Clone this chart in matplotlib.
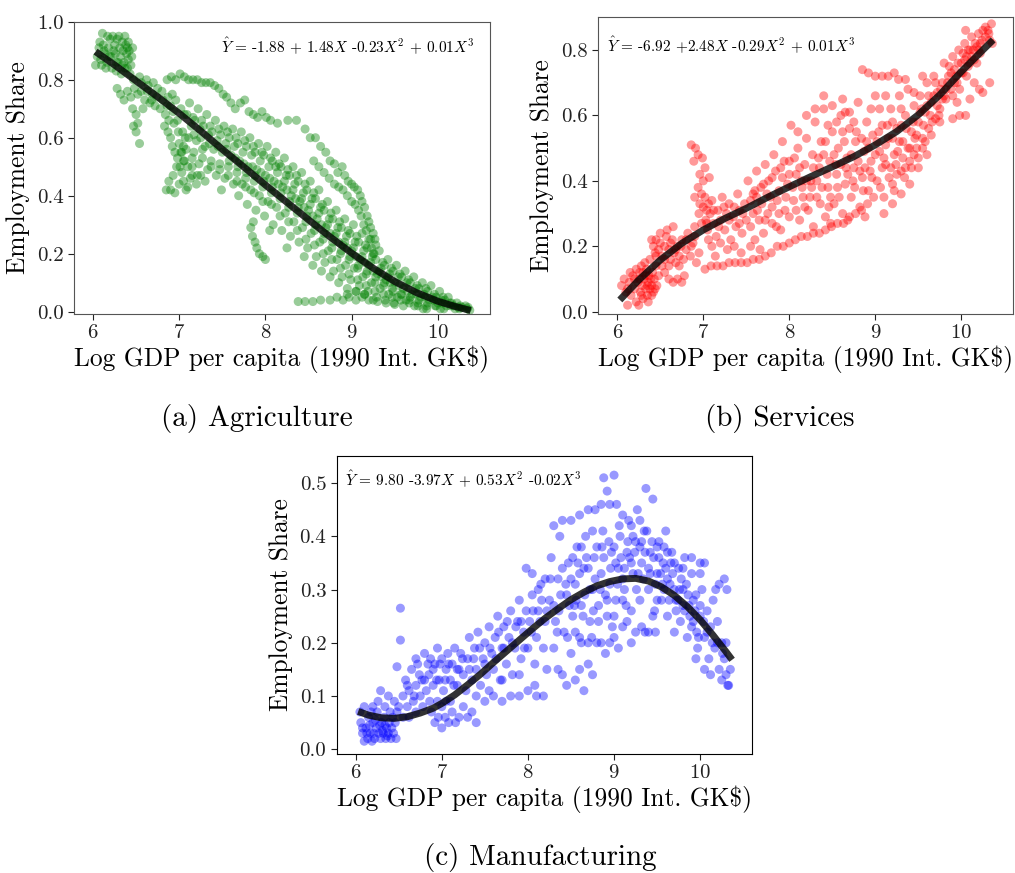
import matplotlib
matplotlib.use("Agg")
import matplotlib.pyplot as plt
import numpy as np

plt.rcParams['font.family'] = 'cmr10'
plt.rcParams['mathtext.fontset'] = 'cm'
plt.rcParams['axes.formatter.use_mathtext'] = True
plt.rcParams['axes.unicode_minus'] = False

# ---- data (log GDP per capita, employment share) ----
agri_pts = [
    # top-left cluster
    (6.03,0.85),(6.05,0.88),(6.07,0.91),(6.09,0.87),(6.11,0.96),(6.12,0.92),(6.14,0.89),(6.16,0.86),
    (6.18,0.91),(6.20,0.94),(6.21,0.88),(6.23,0.95),(6.25,0.92),(6.26,0.89),(6.28,0.94),(6.29,0.86),
    (6.31,0.91),(6.32,0.88),(6.34,0.93),(6.35,0.90),(6.36,0.86),(6.38,0.92),(6.39,0.89),(6.40,0.91),
    (6.41,0.87),(6.42,0.90),(6.44,0.85),(6.45,0.88),(6.22,0.84),(6.27,0.83),(6.33,0.82),(6.37,0.84),
    (6.43,0.82),(6.47,0.80),(6.10,0.85),(6.15,0.84),
    (6.08,0.93),(6.17,0.95),(6.24,0.90),(6.30,0.95),(6.37,0.95),(6.41,0.93),(6.46,0.91),(6.13,0.90),
    (6.19,0.88),(6.27,0.86),(6.34,0.85),(6.40,0.84),
    # left spread
    (6.28,0.77),(6.32,0.75),(6.36,0.73),(6.40,0.76),(6.44,0.74),(6.48,0.77),(6.52,0.75),(6.56,0.79),
    (6.60,0.73),(6.63,0.76),(6.66,0.72),(6.69,0.75),(6.72,0.71),(6.75,0.77),(6.78,0.70),(6.81,0.73),
    (6.84,0.68),(6.87,0.74),(6.90,0.71),(6.58,0.70),(6.54,0.81),(6.62,0.80),(6.70,0.79),(6.46,0.70),
    (6.50,0.68),(6.52,0.65),(6.50,0.62),(6.54,0.58),(6.47,0.64),
    (6.56,0.76),(6.64,0.78),(6.68,0.73),(6.74,0.74),(6.80,0.76),(6.86,0.71),(6.92,0.75),(6.96,0.73),
    (6.93,0.69),(6.88,0.66),
    # upper path
    (6.86,0.80),(6.91,0.81),(6.96,0.80),(7.01,0.82),(7.06,0.81),(7.11,0.80),(7.16,0.80),(7.21,0.80),
    (7.26,0.79),(7.31,0.79),(7.36,0.79),(7.41,0.78),(7.46,0.77),(7.51,0.75),(7.55,0.74),(7.60,0.72),
    (7.65,0.70),(7.71,0.72),(7.76,0.73),(7.81,0.69),(7.86,0.68),(7.91,0.67),(7.96,0.69),(8.01,0.67),
    (8.06,0.66),(8.14,0.65),(8.26,0.66),(8.36,0.66),(8.46,0.63),(8.52,0.60),(8.58,0.60),(8.64,0.57),
    (8.70,0.55),(8.75,0.52),(8.80,0.51),(8.84,0.48),(8.89,0.50),(8.92,0.47),(8.96,0.45),(9.00,0.44),
    (9.03,0.43),(9.07,0.42),(9.10,0.40),(9.12,0.38),(9.15,0.36),(9.18,0.33),(9.20,0.31),(9.22,0.29),
    (9.25,0.27),(9.27,0.25),(9.28,0.23),
    # second right path
    (8.56,0.52),(8.62,0.50),(8.68,0.48),(8.74,0.46),(8.80,0.44),(8.85,0.43),(8.90,0.42),(8.95,0.40),
    (9.00,0.38),(9.04,0.37),(9.08,0.35),(9.11,0.33),(9.14,0.30),(9.17,0.28),(9.20,0.25),(9.23,0.22),
    (9.25,0.20),
    # loop near x=7
    (6.83,0.64),(6.87,0.62),(6.90,0.60),(6.92,0.57),(6.95,0.55),(6.98,0.53),(7.01,0.50),(7.03,0.48),
    (6.97,0.50),(6.93,0.47),(6.88,0.45),(6.85,0.42),(6.90,0.42),(6.95,0.41),(7.00,0.44),(7.05,0.45),
    (7.08,0.42),(7.02,0.55),(7.06,0.52),(7.10,0.50),(7.13,0.46),(6.94,0.65),(6.99,0.62),
    (7.15,0.47),(7.20,0.44),(7.25,0.47),(7.30,0.45),(7.10,0.43),
    # main band
    (7.02,0.70),(6.98,0.66),(7.04,0.62),(7.00,0.58),(7.03,0.55),(7.05,0.52),
    (7.12,0.72),(7.09,0.68),(7.14,0.64),(7.11,0.60),(7.08,0.56),(7.15,0.50),
    (7.22,0.70),(7.18,0.66),(7.24,0.63),(7.20,0.59),(7.17,0.55),(7.23,0.51),(7.21,0.47),
    (7.32,0.68),(7.28,0.64),(7.34,0.61),(7.30,0.57),(7.27,0.53),(7.33,0.49),
    (7.42,0.66),(7.38,0.62),(7.44,0.59),(7.40,0.56),(7.37,0.52),(7.43,0.47),
    (7.52,0.64),(7.48,0.61),(7.54,0.58),(7.50,0.55),(7.47,0.51),(7.53,0.46),(7.49,0.42),
    (7.62,0.63),(7.58,0.60),(7.64,0.57),(7.60,0.54),(7.57,0.50),(7.63,0.44),
    (7.72,0.62),(7.68,0.58),(7.74,0.55),(7.70,0.52),(7.67,0.48),(7.73,0.44),(7.69,0.40),
    (7.82,0.60),(7.78,0.57),(7.84,0.54),(7.80,0.50),(7.77,0.46),(7.83,0.42),(7.79,0.37),
    (7.92,0.58),(7.88,0.55),(7.94,0.52),(7.90,0.49),(7.87,0.45),(7.93,0.40),(7.89,0.35),
    (8.02,0.57),(7.98,0.54),(8.04,0.50),(8.00,0.47),(7.97,0.43),(8.03,0.38),(7.99,0.33),(8.05,0.28),
    (8.12,0.55),(8.08,0.52),(8.14,0.48),(8.10,0.45),(8.07,0.41),(8.13,0.36),(8.09,0.30),
    (8.22,0.53),(8.18,0.50),(8.24,0.47),(8.20,0.43),(8.17,0.39),(8.23,0.34),(8.19,0.28),(8.25,0.22),
    (8.32,0.50),(8.28,0.47),(8.34,0.44),(8.30,0.40),(8.27,0.36),(8.33,0.31),(8.29,0.26),
    (8.42,0.48),(8.38,0.45),(8.44,0.41),(8.40,0.38),(8.37,0.34),(8.43,0.29),(8.39,0.24),(8.45,0.19),
    (8.52,0.45),(8.48,0.42),(8.54,0.39),(8.50,0.35),(8.47,0.31),(8.53,0.27),(8.49,0.22),(8.55,0.16),
    (8.62,0.42),(8.58,0.39),(8.64,0.36),(8.60,0.32),(8.57,0.28),(8.63,0.24),(8.59,0.19),(8.65,0.14),
    (8.72,0.38),(8.68,0.35),(8.74,0.32),(8.70,0.29),(8.67,0.25),(8.73,0.21),(8.69,0.17),(8.75,0.12),
    (8.82,0.35),(8.78,0.32),(8.84,0.29),(8.80,0.26),(8.77,0.22),(8.83,0.18),(8.79,0.14),(8.85,0.10),
    (8.92,0.32),(8.88,0.29),(8.94,0.26),(8.90,0.23),(8.87,0.20),(8.93,0.16),(8.89,0.12),(8.95,0.08),
    (9.02,0.30),(8.98,0.27),(9.04,0.24),(9.00,0.21),(8.97,0.18),(9.03,0.15),(8.99,0.11),(9.05,0.07),
    (9.12,0.27),(9.08,0.24),(9.14,0.21),(9.10,0.18),(9.07,0.15),(9.13,0.12),(9.09,0.09),(9.15,0.06),
    (9.22,0.25),(9.18,0.22),(9.24,0.19),(9.20,0.16),(9.17,0.13),(9.23,0.10),(9.19,0.07),(9.25,0.04),
    (9.32,0.21),(9.28,0.18),(9.34,0.15),(9.30,0.13),(9.27,0.10),(9.33,0.08),(9.29,0.05),
    (9.42,0.18),(9.38,0.16),(9.44,0.13),(9.40,0.11),(9.37,0.09),(9.43,0.06),(9.39,0.04),
    (9.52,0.16),(9.48,0.14),(9.54,0.12),(9.50,0.10),(9.47,0.08),(9.53,0.05),(9.49,0.03),
    (9.62,0.14),(9.58,0.12),(9.64,0.10),(9.60,0.08),(9.57,0.06),(9.63,0.04),
    (9.72,0.12),(9.68,0.10),(9.74,0.08),(9.70,0.06),(9.67,0.04),(9.73,0.02),
    (9.82,0.10),(9.78,0.08),(9.84,0.06),(9.80,0.05),(9.77,0.03),(9.83,0.01),
    (9.92,0.09),(9.88,0.07),(9.94,0.05),(9.90,0.04),(9.87,0.02),
    (10.02,0.07),(9.98,0.05),(10.04,0.04),(10.00,0.03),(9.97,0.02),(10.03,0.01),
    (10.12,0.05),(10.08,0.04),(10.14,0.03),(10.10,0.02),(10.07,0.01),
    (10.22,0.03),(10.18,0.02),(10.24,0.015),(10.20,0.01),
    (10.32,0.02),(10.28,0.015),(10.34,0.01),(10.37,0.005),
    # band infill
    (7.06,0.68),(7.07,0.60),(7.05,0.57),(7.16,0.67),(7.17,0.61),(7.15,0.53),(7.26,0.66),(7.25,0.60),
    (7.27,0.56),(7.36,0.64),(7.35,0.58),(7.37,0.50),(7.46,0.63),(7.45,0.57),(7.47,0.49),(7.56,0.62),
    (7.55,0.56),(7.57,0.47),(7.66,0.60),(7.65,0.53),(7.67,0.45),(7.76,0.59),(7.75,0.51),(7.77,0.43),
    (7.86,0.57),(7.85,0.50),(7.87,0.41),(7.96,0.55),(7.95,0.48),(7.97,0.38),(8.06,0.53),(8.05,0.46),
    (8.07,0.37),(8.16,0.51),(8.15,0.44),(8.17,0.33),(8.26,0.49),(8.25,0.42),(8.27,0.31),(8.36,0.47),
    (8.35,0.39),(8.37,0.28),(8.46,0.44),(8.45,0.36),(8.47,0.25),(8.56,0.41),(8.55,0.33),(8.57,0.23),
    (8.66,0.37),(8.65,0.30),(8.67,0.20),(8.76,0.34),(8.75,0.27),(8.77,0.18),(8.86,0.31),(8.85,0.24),
    (8.87,0.15),(8.96,0.28),(8.95,0.22),(8.97,0.13),(9.06,0.26),(9.05,0.19),(9.07,0.11),(9.16,0.23),
    (9.15,0.17),(9.17,0.09),(9.26,0.20),(9.25,0.14),(9.27,0.07),(9.36,0.17),(9.35,0.12),(9.37,0.06),
    (9.46,0.15),(9.45,0.10),(9.47,0.05),(9.56,0.13),(9.55,0.09),(9.57,0.04),(9.66,0.11),(9.65,0.07),
    (9.67,0.03),(9.76,0.09),(9.75,0.06),(9.77,0.02),(9.86,0.08),(9.85,0.05),(9.87,0.01),(9.96,0.06),
    (9.95,0.04),(10.06,0.05),(10.05,0.03),(10.16,0.03),(10.15,0.02),(10.26,0.02),(10.25,0.01),(10.35,0.015),
    (7.58,0.52),(7.68,0.50),(7.78,0.48),(7.88,0.47),(7.98,0.45),(8.08,0.43),(8.18,0.41),(8.28,0.38),
    (8.38,0.36),(8.48,0.33),(8.58,0.30),(8.68,0.27),(8.78,0.24),(8.88,0.21),(8.98,0.19),(9.08,0.16),
    (9.18,0.14),(9.28,0.12),(9.38,0.10),(9.48,0.07),(9.58,0.06),(9.68,0.05),(9.78,0.04),(9.88,0.03),
    (9.98,0.02),(8.12,0.50),(8.22,0.45),(8.32,0.42),(8.42,0.39),(8.52,0.37),(8.62,0.34),(8.72,0.30),
    (8.82,0.27),(8.92,0.24),(9.02,0.22),(9.12,0.19),(9.22,0.17),(9.32,0.14),(9.42,0.12),
    # lower tail and bottom line
    (7.83,0.29),(7.85,0.26),(7.88,0.24),(7.90,0.22),(7.93,0.20),(7.97,0.19),(8.00,0.18),(7.86,0.31),
    (8.38,0.035),(8.46,0.035),(8.55,0.035),(8.64,0.04),(8.75,0.04),(8.83,0.05),(8.90,0.04),(8.97,0.05),
    (9.05,0.04),(9.12,0.05),(9.20,0.04),(9.30,0.035),(9.40,0.03),(9.50,0.025),(9.60,0.02),(8.95,0.06),
    (9.05,0.07),(9.15,0.06),
]

serv_pts = [
    # bottom-left cluster
    (6.05,0.08),(6.08,0.10),(6.10,0.06),(6.12,0.02),(6.14,0.09),(6.16,0.05),(6.18,0.11),(6.20,0.07),
    (6.22,0.03),(6.24,0.09),(6.26,0.12),(6.27,0.06),(6.29,0.08),(6.30,0.04),(6.31,0.10),(6.33,0.07),
    (6.34,0.13),(6.35,0.05),(6.36,0.09),(6.37,0.11),(6.38,0.07),(6.40,0.08),(6.41,0.12),(6.42,0.06),
    (6.43,0.10),(6.45,0.14),(6.46,0.08),(6.48,0.11),(6.32,0.15),(6.28,0.14),(6.22,0.13),(6.15,0.12),
    (6.38,0.16),(6.44,0.18),(6.36,0.03),(6.25,0.02),
    (6.12,0.07),(6.20,0.10),(6.28,0.05),(6.30,0.12),(6.35,0.08),(6.39,0.10),(6.44,0.07),(6.26,0.10),
    (6.33,0.11),(6.40,0.05),
    # 6.4 - 6.95
    (6.40,0.22),(6.42,0.20),(6.45,0.22),(6.48,0.19),(6.50,0.21),(6.52,0.17),(6.55,0.20),(6.57,0.23),
    (6.60,0.19),(6.62,0.16),(6.64,0.22),(6.66,0.18),(6.68,0.15),(6.70,0.20),(6.72,0.17),(6.75,0.22),
    (6.77,0.16),(6.80,0.19),(6.82,0.24),(6.85,0.17),(6.88,0.21),(6.90,0.26),(6.55,0.12),(6.60,0.10),
    (6.65,0.09),(6.70,0.10),(6.75,0.09),(6.78,0.11),(6.52,0.14),(6.58,0.25),(6.65,0.26),(6.72,0.14),
    (6.92,0.15),(6.95,0.18),
    (6.45,0.17),(6.55,0.16),(6.62,0.21),(6.68,0.19),(6.74,0.20),(6.80,0.22),(6.86,0.20),(6.90,0.23),
    (6.50,0.24),(6.60,0.14),
    # spike near x=7
    (6.86,0.51),(6.91,0.50),(6.94,0.48),(6.89,0.46),(6.99,0.47),(7.02,0.44),(6.96,0.42),(7.00,0.40),
    (6.94,0.38),(6.98,0.36),(6.96,0.33),(7.04,0.31),(6.90,0.35),(7.07,0.41),
    # 6.95 - 7.5
    (6.95,0.30),(6.98,0.27),(7.00,0.32),(7.03,0.28),(7.05,0.25),(7.08,0.30),(7.10,0.34),(7.12,0.27),
    (7.15,0.23),(7.17,0.31),(7.20,0.28),(7.22,0.35),(7.25,0.25),(7.27,0.30),(7.30,0.33),(7.32,0.22),
    (7.35,0.29),(7.38,0.26),(7.40,0.36),(7.42,0.31),(7.45,0.24),(7.48,0.33),(7.50,0.28),(7.10,0.20),
    (7.14,0.17),(7.20,0.21),(7.28,0.19),(7.36,0.20),(7.44,0.18),(7.06,0.22),
    (7.02,0.35),(7.06,0.33),(7.12,0.31),(7.18,0.26),(7.24,0.32),(7.30,0.28),(7.36,0.32),(7.42,0.27),
    (7.46,0.30),(7.04,0.27),
    # lower path
    (7.02,0.13),(7.09,0.14),(7.16,0.14),(7.23,0.14),(7.30,0.15),(7.37,0.15),(7.44,0.15),(7.51,0.15),
    (7.58,0.16),(7.65,0.16),(7.72,0.17),(7.79,0.18),(7.86,0.20),(7.93,0.20),(8.00,0.21),(8.07,0.22),
    (8.14,0.23),(8.21,0.23),(8.28,0.24),(8.35,0.24),(8.42,0.25),(8.49,0.26),(8.56,0.27),(8.63,0.27),
    (8.70,0.29),(8.77,0.30),(8.84,0.31),(8.91,0.33),
    # 7.5 - 8.2
    (7.52,0.40),(7.55,0.34),(7.58,0.30),(7.60,0.37),(7.62,0.43),(7.65,0.28),(7.68,0.33),(7.70,0.39),
    (7.72,0.45),(7.75,0.30),(7.78,0.35),(7.80,0.41),(7.82,0.48),(7.85,0.26),(7.88,0.37),(7.90,0.44),
    (7.92,0.52),(7.95,0.31),(7.98,0.39),(8.00,0.46),(8.02,0.57),(8.05,0.34),(8.08,0.42),(8.10,0.50),
    (8.12,0.28),(8.15,0.38),(8.18,0.45),(8.20,0.53),(7.60,0.22),(7.70,0.24),(7.80,0.27),(7.90,0.25),
    (8.00,0.29),(7.55,0.20),(7.66,0.19),
    (7.55,0.26),(7.58,0.36),(7.63,0.31),(7.67,0.38),(7.72,0.28),(7.76,0.40),(7.80,0.32),(7.84,0.43),
    (7.88,0.30),(7.92,0.41),(7.96,0.35),(8.00,0.42),(8.04,0.38),(8.08,0.31),(8.12,0.44),(8.16,0.35),
    (8.20,0.40),(8.20,0.60),(8.10,0.55),
    (7.62,0.35),(7.74,0.36),(7.86,0.34),(7.94,0.46),(8.06,0.47),(8.14,0.40),(8.18,0.32),
    # 8.2 - 9.0
    (8.22,0.31),(8.25,0.40),(8.27,0.48),(8.30,0.58),(8.32,0.35),(8.35,0.44),(8.37,0.52),(8.40,0.62),
    (8.42,0.29),(8.45,0.38),(8.47,0.46),(8.50,0.55),(8.52,0.33),(8.55,0.42),(8.57,0.50),(8.60,0.60),
    (8.62,0.30),(8.65,0.39),(8.67,0.47),(8.70,0.56),(8.72,0.35),(8.75,0.44),(8.77,0.52),(8.80,0.64),
    (8.82,0.32),(8.85,0.41),(8.87,0.49),(8.90,0.58),(8.92,0.37),(8.95,0.46),(8.97,0.54),(9.00,0.66),
    (8.28,0.26),(8.48,0.27),(8.68,0.28),(8.88,0.29),(8.40,0.66),(8.50,0.63),(8.62,0.65),(8.70,0.61),
    (8.24,0.35),(8.28,0.44),(8.32,0.40),(8.36,0.33),(8.40,0.48),(8.44,0.42),(8.48,0.35),(8.52,0.48),
    (8.56,0.38),(8.60,0.45),(8.64,0.52),(8.68,0.42),(8.72,0.48),(8.76,0.38),(8.80,0.46),(8.84,0.53),
    (8.88,0.44),(8.92,0.50),(8.96,0.41),(8.30,0.62),(8.45,0.57),(8.55,0.58),(8.65,0.61),(8.75,0.58),
    (8.95,0.62),
    (8.26,0.38),(8.34,0.47),(8.38,0.38),(8.42,0.52),(8.46,0.32),(8.54,0.45),(8.58,0.35),(8.62,0.55),
    (8.66,0.44),(8.74,0.40),(8.78,0.55),(8.82,0.43),(8.86,0.37),(8.90,0.52),(8.94,0.43),(8.98,0.35),
    # upper row
    (8.85,0.74),(8.92,0.73),(9.00,0.72),(9.08,0.72),(9.15,0.72),(9.22,0.73),(9.27,0.71),
    # 9.0 - 9.9
    (9.02,0.40),(9.05,0.49),(9.08,0.57),(9.10,0.35),(9.12,0.45),(9.15,0.53),(9.18,0.62),(9.20,0.39),
    (9.22,0.48),(9.25,0.56),(9.28,0.66),(9.30,0.43),(9.32,0.52),(9.35,0.60),(9.38,0.68),(9.40,0.46),
    (9.42,0.55),(9.45,0.63),(9.48,0.50),(9.50,0.58),(9.52,0.66),(9.55,0.53),(9.58,0.61),(9.60,0.70),
    (9.62,0.56),(9.65,0.64),(9.68,0.72),(9.70,0.59),(9.72,0.67),(9.75,0.62),(9.78,0.70),(9.80,0.76),
    (9.82,0.65),(9.85,0.72),(9.88,0.68),(9.90,0.78),(9.10,0.30),(9.20,0.33),(9.30,0.36),(9.40,0.39),
    (9.50,0.44),(9.60,0.48),(9.12,0.66),(9.35,0.71),(9.55,0.72),
    (9.00,0.48),(9.04,0.55),(9.08,0.44),(9.12,0.51),(9.16,0.41),(9.20,0.53),(9.24,0.45),(9.28,0.52),
    (9.32,0.47),(9.36,0.56),(9.40,0.50),(9.44,0.58),(9.48,0.54),(9.52,0.61),(9.56,0.57),(9.60,0.63),
    (9.64,0.60),(9.68,0.66),(9.72,0.63),(9.76,0.68),(9.80,0.66),(9.84,0.70),(9.88,0.73),(9.20,0.58),
    (9.30,0.62),(9.45,0.67),(9.05,0.62),(9.25,0.42),(9.35,0.44),(9.45,0.48),(9.55,0.50),(9.65,0.54),
    (9.75,0.58),
    (9.02,0.52),(9.06,0.38),(9.10,0.47),(9.14,0.57),(9.18,0.44),(9.22,0.37),(9.26,0.49),(9.30,0.57),
    (9.34,0.41),(9.38,0.50),(9.42,0.44),(9.46,0.53),(9.50,0.47),(9.54,0.62),(9.58,0.52),(9.62,0.66),
    (9.66,0.58),(9.70,0.70),(9.74,0.60),(9.78,0.65),(9.82,0.68),(9.86,0.75),
    # 9.9 - 10.4
    (9.92,0.74),(9.95,0.70),(9.97,0.80),(10.00,0.76),(10.02,0.73),(10.04,0.82),(10.06,0.78),(10.08,0.75),
    (10.10,0.80),(10.12,0.84),(10.15,0.77),(10.18,0.81),(10.20,0.85),(10.22,0.79),(10.25,0.86),(10.28,0.87),
    (10.31,0.86),(10.35,0.88),(10.33,0.83),(10.36,0.82),(10.05,0.86),(10.15,0.70),(10.21,0.68),(10.25,0.67),
    (10.33,0.70),(9.90,0.59),(9.98,0.60),(10.05,0.60),(9.95,0.64),(10.10,0.65),
    (9.92,0.70),(9.96,0.76),(10.00,0.73),(10.04,0.77),(10.08,0.80),(10.12,0.78),(10.16,0.82),(10.20,0.80),
    (10.24,0.83),(10.28,0.84),(10.32,0.85),(9.90,0.66),(9.94,0.72),(9.98,0.68),(10.02,0.79),(10.06,0.72),
    (10.10,0.76),(10.14,0.80),(10.18,0.76),(10.22,0.82),
]

manu_pts = [
    # bottom-left cluster
    (6.06,0.05),(6.08,0.03),(6.10,0.015),(6.12,0.04),(6.14,0.02),(6.15,0.06),(6.17,0.03),(6.19,0.015),
    (6.20,0.05),(6.22,0.02),(6.24,0.04),(6.25,0.07),(6.27,0.03),(6.29,0.02),(6.30,0.05),(6.32,0.03),
    (6.33,0.06),(6.35,0.02),(6.36,0.04),(6.38,0.03),(6.39,0.05),(6.41,0.02),(6.42,0.04),(6.44,0.03),
    (6.46,0.05),(6.47,0.02),(6.05,0.07),(6.10,0.08),(6.18,0.07),(6.26,0.09),(6.34,0.08),(6.40,0.07),
    (6.45,0.09),(6.50,0.08),(6.55,0.06),(6.29,0.11),
    (6.08,0.04),(6.13,0.03),(6.16,0.045),(6.21,0.03),(6.23,0.055),(6.28,0.045),(6.31,0.035),(6.34,0.045),
    (6.37,0.025),(6.43,0.06),(6.20,0.08),(6.38,0.10),(6.48,0.07),
    # outliers
    (6.52,0.265),(6.52,0.205),(6.48,0.155),
    # 6.5 - 7.3
    (6.55,0.10),(6.58,0.13),(6.60,0.08),(6.62,0.11),(6.65,0.15),(6.67,0.09),(6.70,0.12),(6.72,0.16),
    (6.75,0.10),(6.77,0.13),(6.80,0.18),(6.82,0.11),(6.85,0.14),(6.87,0.17),(6.90,0.12),(6.92,0.16),
    (6.95,0.19),(6.97,0.13),(7.00,0.17),(7.02,0.11),(7.05,0.15),(7.07,0.18),(7.10,0.13),(7.12,0.16),
    (7.15,0.19),(7.18,0.12),(7.20,0.15),(7.22,0.18),(7.25,0.14),(6.62,0.06),(6.70,0.07),(6.78,0.08),
    (6.86,0.09),
    (6.60,0.12),(6.68,0.10),(6.74,0.14),(6.80,0.13),(6.84,0.16),(6.90,0.15),(6.94,0.13),(6.98,0.16),
    (7.04,0.13),(7.08,0.16),(7.14,0.12),(7.18,0.15),(7.24,0.17),(6.70,0.17),(6.95,0.09),(7.05,0.09),
    # lower path
    (6.88,0.07),(6.92,0.05),(6.96,0.06),(7.00,0.04),(7.04,0.06),(7.08,0.05),(7.12,0.07),(7.16,0.05),
    (7.20,0.06),(7.25,0.08),(7.30,0.06),(7.35,0.07),(7.40,0.05),(7.00,0.08),(7.10,0.09),
    # 7.3 - 8.2
    (7.28,0.11),(7.30,0.17),(7.32,0.21),(7.35,0.13),(7.38,0.19),(7.40,0.15),(7.42,0.22),(7.45,0.12),
    (7.48,0.17),(7.50,0.20),(7.52,0.14),(7.55,0.23),(7.58,0.18),(7.60,0.15),(7.62,0.21),(7.65,0.25),
    (7.68,0.13),(7.70,0.19),(7.72,0.23),(7.75,0.16),(7.78,0.21),(7.80,0.26),(7.82,0.14),(7.85,0.19),
    (7.88,0.24),(7.90,0.28),(7.92,0.17),(7.95,0.22),(7.98,0.26),(8.00,0.19),(8.02,0.24),(8.05,0.29),
    (8.08,0.16),(8.10,0.21),(8.12,0.26),(8.15,0.31),(8.18,0.19),(8.20,0.24),(7.40,0.10),(7.50,0.09),
    (7.60,0.10),(7.70,0.09),(7.80,0.10),(7.90,0.10),(8.00,0.11),(8.10,0.10),(8.18,0.10),(7.55,0.11),
    (7.98,0.34),(8.05,0.33),(8.12,0.30),(8.20,0.32),
    (7.32,0.15),(7.37,0.17),(7.44,0.19),(7.50,0.16),(7.56,0.19),(7.63,0.17),(7.66,0.22),(7.72,0.19),
    (7.76,0.24),(7.82,0.20),(7.86,0.23),(7.92,0.24),(7.96,0.19),(8.04,0.22),(8.06,0.26),(8.14,0.24),
    (8.16,0.28),(8.22,0.26),(7.70,0.13),(7.90,0.14),(8.08,0.12),
    # 8.2 - 9.1
    (8.22,0.15),(8.25,0.28),(8.27,0.36),(8.30,0.19),(8.32,0.24),(8.35,0.32),(8.37,0.40),(8.40,0.14),
    (8.42,0.22),(8.45,0.29),(8.47,0.35),(8.50,0.18),(8.52,0.25),(8.55,0.31),(8.57,0.38),(8.60,0.21),
    (8.62,0.27),(8.65,0.34),(8.67,0.40),(8.70,0.16),(8.72,0.24),(8.75,0.30),(8.77,0.36),(8.80,0.20),
    (8.82,0.27),(8.85,0.33),(8.87,0.41),(8.90,0.18),(8.92,0.25),(8.95,0.31),(8.97,0.37),(9.00,0.21),
    (9.02,0.28),(9.05,0.34),(9.07,0.40),(9.10,0.23),(8.30,0.42),(8.40,0.43),(8.50,0.43),(8.60,0.44),
    (8.70,0.45),(8.78,0.45),(8.85,0.46),(8.95,0.46),(9.03,0.46),(8.88,0.51),(8.92,0.485),(9.00,0.515),
    (8.45,0.12),(8.55,0.13),(8.65,0.11),(8.75,0.14),(8.35,0.15),(8.95,0.20),(9.05,0.19),
    (8.26,0.32),(8.30,0.27),(8.36,0.26),(8.40,0.34),(8.44,0.31),(8.48,0.27),(8.52,0.36),(8.56,0.28),
    (8.60,0.33),(8.64,0.25),(8.68,0.36),(8.72,0.30),(8.76,0.26),(8.80,0.38),(8.84,0.30),(8.88,0.36),
    (8.92,0.28),(8.96,0.34),(9.00,0.38),(9.04,0.31),(9.08,0.36),(8.60,0.15),(8.70,0.20),(8.85,0.20),
    (9.00,0.25),(8.62,0.38),(8.75,0.41),(8.55,0.22),
    (8.34,0.22),(8.38,0.29),(8.46,0.21),(8.50,0.32),(8.54,0.27),(8.58,0.35),(8.62,0.20),(8.66,0.29),
    (8.70,0.34),(8.74,0.21),(8.78,0.32),(8.82,0.24),(8.86,0.38),(8.90,0.29),(8.94,0.39),(8.98,0.23),
    (9.02,0.35),(9.06,0.42),
    # 9.1 - 9.9
    (9.12,0.30),(9.15,0.37),(9.17,0.43),(9.20,0.26),(9.22,0.33),(9.25,0.39),(9.27,0.45),(9.30,0.28),
    (9.32,0.35),(9.35,0.41),(9.37,0.49),(9.40,0.30),(9.42,0.37),(9.45,0.47),(9.47,0.26),(9.50,0.33),
    (9.52,0.39),(9.55,0.28),(9.57,0.35),(9.60,0.41),(9.62,0.25),(9.65,0.31),(9.67,0.37),(9.70,0.22),
    (9.72,0.28),(9.75,0.34),(9.77,0.24),(9.80,0.30),(9.82,0.36),(9.85,0.21),(9.87,0.27),(9.90,0.33),
    (9.32,0.23),(9.40,0.22),(9.48,0.22),(9.20,0.20),(9.15,0.24),
    (9.12,0.34),(9.16,0.39),(9.20,0.35),(9.24,0.37),(9.28,0.33),(9.32,0.39),(9.36,0.37),(9.40,0.34),
    (9.44,0.39),(9.48,0.31),(9.52,0.36),(9.56,0.31),(9.60,0.34),(9.64,0.28),(9.68,0.33),(9.72,0.26),
    (9.76,0.30),(9.80,0.27),(9.84,0.31),(9.88,0.25),(9.10,0.28),(9.25,0.22),(9.10,0.44),(9.20,0.42),
    (9.30,0.43),(9.36,0.22),(9.50,0.28),(9.45,0.25),(9.58,0.38),(9.62,0.37),(9.70,0.35),(9.80,0.34),
    (9.90,0.36),
    (9.10,0.32),(9.14,0.27),(9.18,0.36),(9.22,0.40),(9.26,0.30),(9.30,0.38),(9.34,0.32),(9.38,0.41),
    (9.42,0.33),(9.46,0.36),(9.50,0.38),(9.54,0.33),(9.58,0.30),(9.62,0.32),(9.66,0.35),(9.70,0.30),
    (9.74,0.28),(9.78,0.32),(9.82,0.26),(9.86,0.29),
    # 9.9 - 10.4
    (9.92,0.24),(9.95,0.29),(9.97,0.19),(10.00,0.25),(10.02,0.30),(10.05,0.21),(10.08,0.26),(10.10,0.17),
    (10.12,0.23),(10.15,0.28),(10.17,0.19),(10.20,0.24),(10.22,0.15),(10.25,0.20),(10.28,0.17),(10.30,0.14),
    (10.33,0.12),(10.35,0.15),(10.18,0.30),(10.22,0.31),(10.28,0.32),(10.31,0.30),(10.05,0.15),(10.12,0.14),
    (10.25,0.13),(10.32,0.12),(9.95,0.17),(10.00,0.33),(10.05,0.35),
    (9.92,0.28),(9.96,0.22),(10.00,0.27),(10.04,0.24),(10.08,0.22),(10.14,0.20),(10.20,0.20),(10.26,0.18),
    (10.30,0.20),(10.00,0.35),(9.90,0.23),(9.94,0.26),(9.98,0.21),
]

# fitted cubic lines
agri_fit_x = [6.03, 6.25, 6.5, 6.75, 7.0, 7.25, 7.5, 7.75, 8.0, 8.25, 8.5, 8.75, 9.0, 9.25, 9.5, 9.75, 10.0, 10.2, 10.38]
agri_fit_y = [0.897, 0.851, 0.796, 0.741, 0.684, 0.623, 0.560, 0.499, 0.437, 0.377, 0.317, 0.258, 0.202, 0.150, 0.104, 0.066, 0.036, 0.018, 0.004]
serv_fit_x = [6.03, 6.25, 6.5, 6.75, 7.0, 7.25, 7.5, 7.75, 8.0, 8.25, 8.5, 8.75, 9.0, 9.25, 9.5, 9.75, 10.0, 10.25, 10.37]
serv_fit_y = [0.036, 0.097, 0.158, 0.209, 0.250, 0.285, 0.316, 0.350, 0.382, 0.413, 0.443, 0.474, 0.510, 0.551, 0.602, 0.663, 0.734, 0.800, 0.831]
manu_fit_x = [6.03, 6.15, 6.3, 6.45, 6.6, 6.75, 6.9, 7.0, 7.15, 7.3, 7.45, 7.6, 7.75, 7.9, 8.05, 8.2, 8.35,
              8.5, 8.65, 8.8, 8.95, 9.1, 9.25, 9.4, 9.55, 9.7, 9.85, 10.0, 10.15, 10.3, 10.37]
manu_fit_y = [0.071, 0.064, 0.059, 0.058, 0.061, 0.068, 0.077, 0.086, 0.102, 0.121, 0.141, 0.163, 0.184, 0.205, 0.226, 0.246, 0.264,
              0.281, 0.295, 0.307, 0.315, 0.320, 0.321, 0.316, 0.305, 0.289, 0.268, 0.243, 0.214, 0.183, 0.168]

equations = [
    r"$\hat{Y}$ = -1.88 + 1.48$X$ -0.23$X^2$ + 0.01$X^3$",
    r"$\hat{Y}$ = -6.92 +2.48$X$ -0.29$X^2$ + 0.01$X^3$",
    r"$\hat{Y}$ = 9.80 -3.97$X$ + 0.53$X^2$ -0.02$X^3$",
]
captions = ["(a) Agriculture", "(b) Services", "(c) Manufacturing"]

fig = plt.figure(figsize=(10.15, 8.73), dpi=100)

panels = [
    # axes rect, points, fit, colour, ylim, ticks, eq position, spine colour
    ([0.0729, 0.6403, 0.4099, 0.3348], agri_pts, (agri_fit_x, agri_fit_y), 'green',
     (-0.008, 1.0), [0.0, 0.2, 0.4, 0.6, 0.8, 1.0], (0.964, 0.92, 'right'), '#555555'),
    ([0.5895, 0.6403, 0.4089, 0.3399], serv_pts, (serv_fit_x, serv_fit_y), 'red',
     (-0.007, 0.9), [0.0, 0.2, 0.4, 0.6, 0.8], (0.021, 0.907, 'left'), '#555555'),
    ([0.3317, 0.1363, 0.4095, 0.3414], manu_pts, (manu_fit_x, manu_fit_y), 'blue',
     (-0.009, 0.551), [0.0, 0.1, 0.2, 0.3, 0.4, 0.5], (0.02, 0.923, 'left'), 'black'),
]

for i, (rect, pts, fit, col, ylim, yt, eqpos, sc) in enumerate(panels):
    ax = fig.add_axes(rect)
    px = [p[0] for p in pts]
    py = [p[1] for p in pts]
    ax.scatter(px, py, s=42, color=col, alpha=0.4, edgecolors='none')
    ax.plot(fit[0], fit[1], color='black', lw=5, alpha=0.8,
            solid_capstyle='butt', solid_joinstyle='round')
    ax.set_xlim(5.78, 10.605)
    ax.set_ylim(*ylim)
    ax.set_xticks([6, 7, 8, 9, 10])
    ax.set_yticks(yt)
    ax.set_yticklabels(['%.1f' % v for v in yt])
    ax.tick_params(labelsize=15, colors='#222222', length=4)
    for s in ax.spines.values():
        s.set_color(sc)
    ax.set_xlabel(r"Log GDP per capita (1990 Int. GK\$)", fontsize=18.3, labelpad=2)
    ax.set_ylabel("Employment Share", fontsize=18.3, labelpad=5)
    ax.text(eqpos[0], eqpos[1], equations[i], transform=ax.transAxes,
            ha=eqpos[2], va='center', fontsize=11)

fig.text(0.253, 0.521, captions[0], ha='center', va='center', fontsize=21)
fig.text(0.768, 0.521, captions[1], ha='center', va='center', fontsize=21)
fig.text(0.532, 0.018, captions[2], ha='center', va='center', fontsize=21)

fig.savefig('out.png', dpi=100)
